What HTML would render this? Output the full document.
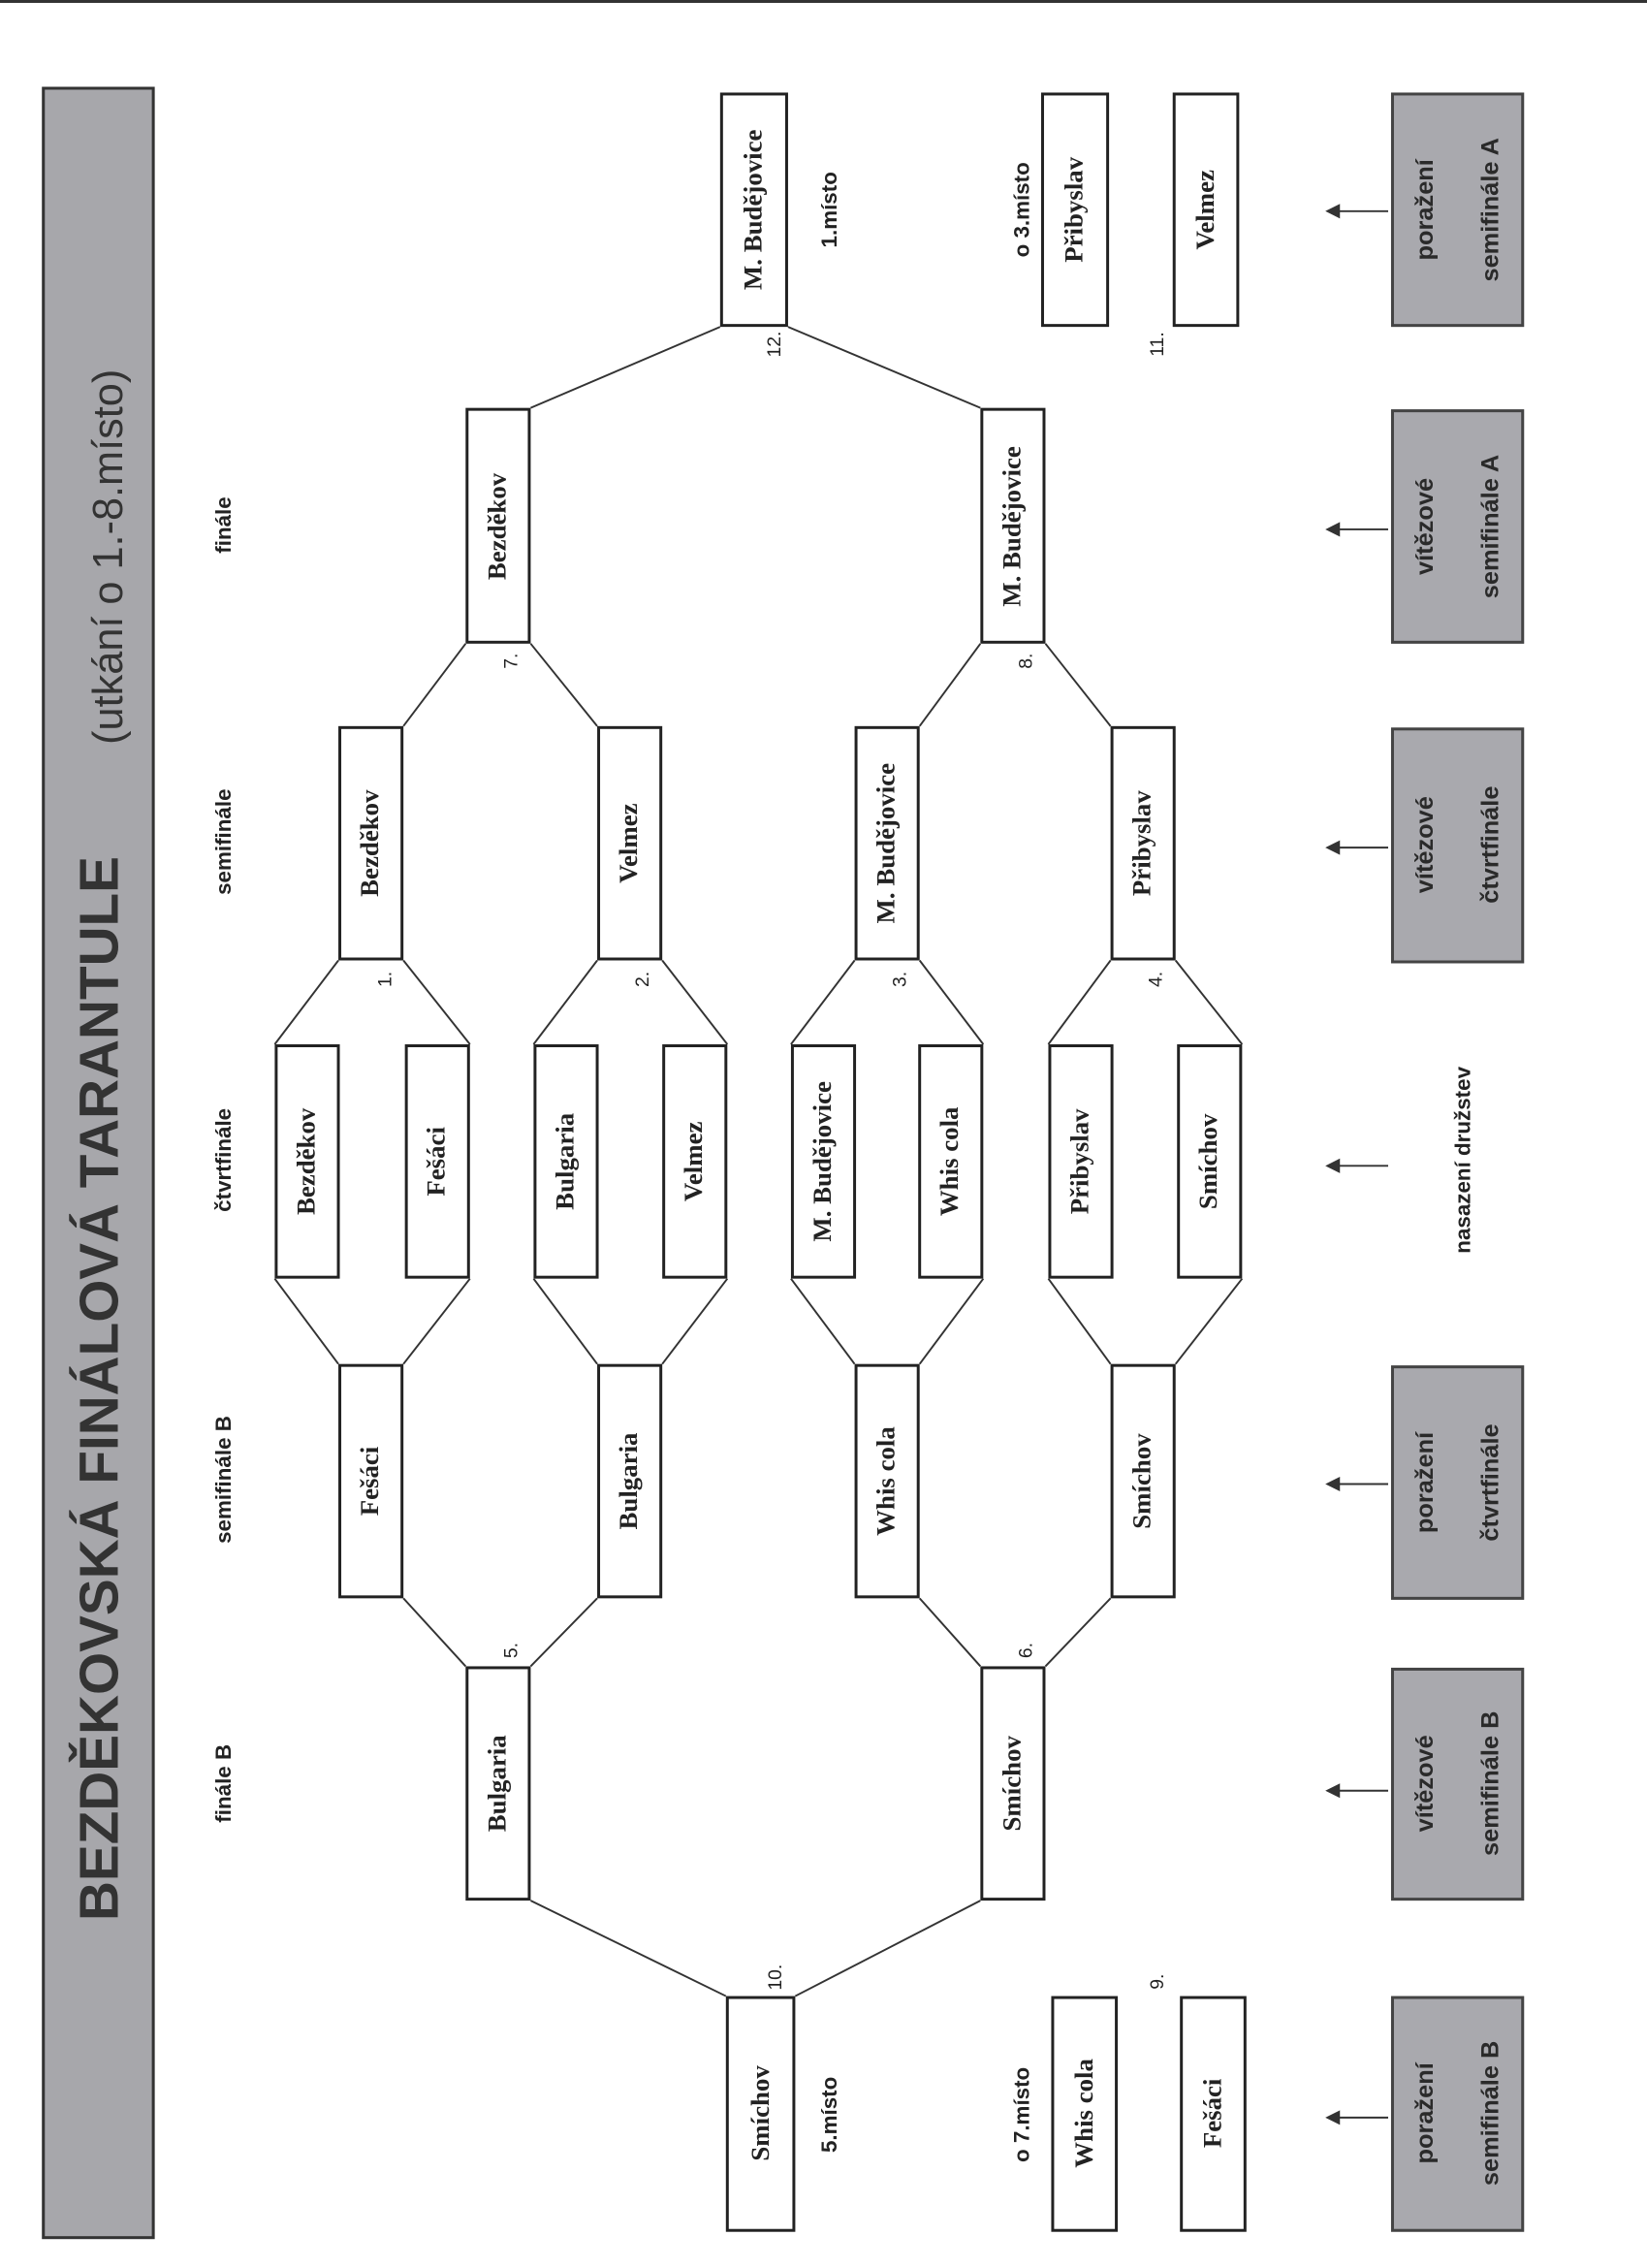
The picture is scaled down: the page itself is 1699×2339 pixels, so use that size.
<!DOCTYPE html>
<html><head><meta charset="utf-8">
<style>
html,body{margin:0;padding:0;background:#fff;}
body{width:1699px;height:2339px;overflow:hidden;position:relative;}
#c{position:absolute;left:0;top:0;width:1139px;height:1568px;transform:scale(1.49166,1.49171);transform-origin:0 0;}
.b{position:absolute;box-sizing:border-box;border:2px solid #222;background:#fff;}
.g{position:absolute;box-sizing:border-box;border:2px solid #444;background:#a9a9ae;}
.t{position:absolute;transform:translate(-50%,-50%) rotate(-90deg);white-space:nowrap;text-align:center;}
.bt{font-family:"Liberation Serif",serif;font-weight:bold;font-size:18px;color:#222;}
.lt{font-family:"Liberation Sans",sans-serif;font-size:15px;color:#222;font-weight:bold;}
.nt{font-family:"Liberation Sans",sans-serif;font-size:13px;color:#222;}
.gt{font-family:"Liberation Sans",sans-serif;font-size:17px;color:#2a2a2a;line-height:45px;font-weight:bold;}
svg{position:absolute;left:0;top:0;}
</style></head><body><div id="c">
<div style="position:absolute;left:0;top:0;width:1139px;height:2px;background:#333"></div>
<div class="g" style="left:29px;top:60px;width:78px;height:1488px;background:#a7a7ab;border-color:#333"></div>
<div class="t" style="left:70px;top:960px;font-family:'Liberation Sans',sans-serif;font-weight:bold;font-size:38px;color:#333">BEZDĚKOVSKÁ FINÁLOVÁ TARANTULE</div>
<div class="t" style="left:76px;top:385px;font-family:'Liberation Sans',sans-serif;font-size:29px;color:#333">(utkání o 1.-8.místo)</div>

<svg width="1139" height="1568" stroke="#333" stroke-width="1.3" fill="none">
<polyline points="234,664 190,722"/><polyline points="279,664 325,722"/>
<polyline points="190,884 234,943"/><polyline points="325,884 279,943"/>
<polyline points="413,664 369,722"/><polyline points="458,664 503,722"/>
<polyline points="369,884 413,943"/><polyline points="503,884 458,943"/>
<polyline points="591,664 547,722"/><polyline points="636,664 680,722"/>
<polyline points="547,884 591,943"/><polyline points="680,884 636,943"/>
<polyline points="768,664 725,722"/><polyline points="813,664 859,722"/>
<polyline points="725,884 768,943"/><polyline points="859,884 813,943"/>
<polyline points="279,502 322,445"/><polyline points="413,502 367,445"/>
<polyline points="636,502 678,445"/><polyline points="768,502 723,445"/>
<polyline points="279,1105 322,1152"/><polyline points="413,1105 367,1152"/>
<polyline points="636,1105 678,1152"/><polyline points="768,1105 723,1152"/>
<polyline points="367,282 498,226"/><polyline points="678,282 545,226"/>
<polyline points="367,1314 502,1380"/><polyline points="678,1314 550,1380"/>
<g fill="#333">
<line x1="960" y1="146" x2="922" y2="146"/><polygon points="918,146 926,142 926,150"/>
<line x1="960" y1="366" x2="922" y2="366"/><polygon points="918,366 926,362 926,370"/>
<line x1="960" y1="586" x2="922" y2="586"/><polygon points="918,586 926,582 926,590"/>
<line x1="960" y1="806" x2="922" y2="806"/><polygon points="918,806 926,802 926,810"/>
<line x1="960" y1="1026" x2="922" y2="1026"/><polygon points="918,1026 926,1022 926,1030"/>
<line x1="960" y1="1238" x2="922" y2="1238"/><polygon points="918,1238 926,1234 926,1242"/>
<line x1="960" y1="1464" x2="922" y2="1464"/><polygon points="918,1464 926,1460 926,1468"/>
</g>
</svg>

<div class="b" style="left:498px;top:64px;width:47px;height:162px"></div><div class="t bt" style="left:521px;top:145px">M. Budějovice</div>
<div class="b" style="left:720px;top:64px;width:47px;height:162px"></div><div class="t bt" style="left:743px;top:145px">Přibyslav</div>
<div class="b" style="left:811px;top:64px;width:46px;height:162px"></div><div class="t bt" style="left:834px;top:145px">Velmez</div>

<div class="b" style="left:322px;top:282px;width:45px;height:163px"></div><div class="t bt" style="left:344px;top:364px">Bezděkov</div>
<div class="b" style="left:678px;top:282px;width:45px;height:163px"></div><div class="t bt" style="left:700px;top:364px">M. Budějovice</div>

<div class="b" style="left:234px;top:502px;width:45px;height:162px"></div><div class="t bt" style="left:256px;top:583px">Bezděkov</div>
<div class="b" style="left:413px;top:502px;width:45px;height:162px"></div><div class="t bt" style="left:435px;top:583px">Velmez</div>
<div class="b" style="left:591px;top:502px;width:45px;height:162px"></div><div class="t bt" style="left:613px;top:583px">M. Budějovice</div>
<div class="b" style="left:768px;top:502px;width:45px;height:162px"></div><div class="t bt" style="left:790px;top:583px">Přibyslav</div>

<div class="b" style="left:190px;top:722px;width:45px;height:162px"></div><div class="t bt" style="left:212px;top:803px">Bezděkov</div>
<div class="b" style="left:280px;top:722px;width:45px;height:162px"></div><div class="t bt" style="left:302px;top:803px">Fešáci</div>
<div class="b" style="left:369px;top:722px;width:45px;height:162px"></div><div class="t bt" style="left:391px;top:803px">Bulgaria</div>
<div class="b" style="left:458px;top:722px;width:45px;height:162px"></div><div class="t bt" style="left:480px;top:803px">Velmez</div>
<div class="b" style="left:547px;top:722px;width:45px;height:162px"></div><div class="t bt" style="left:569px;top:803px">M. Budějovice</div>
<div class="b" style="left:635px;top:722px;width:45px;height:162px"></div><div class="t bt" style="left:657px;top:803px">Whis cola</div>
<div class="b" style="left:725px;top:722px;width:45px;height:162px"></div><div class="t bt" style="left:747px;top:803px">Přibyslav</div>
<div class="b" style="left:814px;top:722px;width:45px;height:162px"></div><div class="t bt" style="left:836px;top:803px">Smíchov</div>

<div class="b" style="left:234px;top:943px;width:45px;height:162px"></div><div class="t bt" style="left:256px;top:1024px">Fešáci</div>
<div class="b" style="left:413px;top:943px;width:45px;height:162px"></div><div class="t bt" style="left:435px;top:1024px">Bulgaria</div>
<div class="b" style="left:591px;top:943px;width:45px;height:162px"></div><div class="t bt" style="left:613px;top:1024px">Whis cola</div>
<div class="b" style="left:768px;top:943px;width:45px;height:162px"></div><div class="t bt" style="left:790px;top:1024px">Smíchov</div>

<div class="b" style="left:322px;top:1152px;width:45px;height:162px"></div><div class="t bt" style="left:344px;top:1233px">Bulgaria</div>
<div class="b" style="left:678px;top:1152px;width:45px;height:162px"></div><div class="t bt" style="left:700px;top:1233px">Smíchov</div>

<div class="b" style="left:502px;top:1380px;width:48px;height:163px"></div><div class="t bt" style="left:526px;top:1461px">Smíchov</div>
<div class="b" style="left:727px;top:1380px;width:46px;height:163px"></div><div class="t bt" style="left:750px;top:1461px">Whis cola</div>
<div class="b" style="left:816px;top:1380px;width:46px;height:163px"></div><div class="t bt" style="left:839px;top:1461px">Fešáci</div>

<div class="g" style="left:962px;top:64px;width:92px;height:162px"></div><div class="t gt" style="left:1008px;top:145px">poražení<br>semifinále A</div>
<div class="g" style="left:962px;top:283px;width:92px;height:162px"></div><div class="t gt" style="left:1008px;top:364px">vítězové<br>semifinále A</div>
<div class="g" style="left:962px;top:503px;width:92px;height:163px"></div><div class="t gt" style="left:1008px;top:584px">vítězové<br>čtvrtfinále</div>
<div class="g" style="left:962px;top:944px;width:92px;height:162px"></div><div class="t gt" style="left:1008px;top:1025px">poražení<br>čtvrtfinále</div>
<div class="g" style="left:962px;top:1153px;width:92px;height:161px"></div><div class="t gt" style="left:1008px;top:1233px">vítězové<br>semifinále B</div>
<div class="g" style="left:962px;top:1380px;width:92px;height:163px"></div><div class="t gt" style="left:1008px;top:1461px">poražení<br>semifinále B</div>

<div class="t lt" style="left:155px;top:363px">finále</div>
<div class="t lt" style="left:155px;top:582px">semifinále</div>
<div class="t lt" style="left:155px;top:802px">čtvrtfinále</div>
<div class="t lt" style="left:155px;top:1023px">semifinále B</div>
<div class="t lt" style="left:155px;top:1233px">finále B</div>
<div class="t lt" style="left:1012px;top:802px">nasazení družstev</div>
<div class="t lt" style="left:574px;top:145px">1.místo</div>
<div class="t lt" style="left:707px;top:145px">o 3.místo</div>
<div class="t lt" style="left:574px;top:1462px">5.místo</div>
<div class="t lt" style="left:707px;top:1462px">o 7.místo</div>

<div class="t nt" style="left:266px;top:677px">1.</div>
<div class="t nt" style="left:444px;top:677px">2.</div>
<div class="t nt" style="left:622px;top:677px">3.</div>
<div class="t nt" style="left:799px;top:677px">4.</div>
<div class="t nt" style="left:353px;top:1141px">5.</div>
<div class="t nt" style="left:709px;top:1141px">6.</div>
<div class="t nt" style="left:353px;top:457px">7.</div>
<div class="t nt" style="left:709px;top:457px">8.</div>
<div class="t nt" style="left:535px;top:238px">12.</div>
<div class="t nt" style="left:536px;top:1367px">10.</div>
<div class="t nt" style="left:800px;top:1370px">9.</div>
<div class="t nt" style="left:800px;top:238px">11.</div>
</div></body></html>
